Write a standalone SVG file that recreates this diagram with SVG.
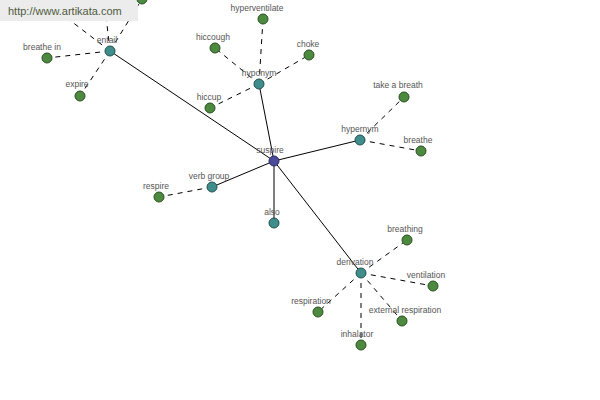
<svg xmlns="http://www.w3.org/2000/svg" width="600" height="400" viewBox="0 0 600 400">
<style>
.s{stroke:#000;stroke-width:1;fill:none}
.d{stroke:#000;stroke-width:1;fill:none;stroke-dasharray:5,5}
.c{fill:#4b4b9c;stroke:#2a2a5e;stroke-width:1}
.r{fill:#3f8e8c;stroke:#24504f;stroke-width:1}
.l{fill:#4d8a3f;stroke:#2a4f22;stroke-width:1}
text{font-family:"Liberation Sans",Arial,sans-serif;font-size:8.5px;fill:#555;text-anchor:middle}
</style>
<rect width="600" height="400" fill="#fff"/>
<g id="connectors">
<line class="s" x1="274" y1="161" x2="110" y2="51"/>
<line class="s" x1="274" y1="161" x2="259" y2="84"/>
<line class="s" x1="274" y1="161" x2="360" y2="140"/>
<line class="s" x1="274" y1="161" x2="212" y2="187"/>
<line class="s" x1="274" y1="161" x2="274" y2="223"/>
<line class="s" x1="274" y1="161" x2="361" y2="273"/>
<line class="d" x1="110" y1="51" x2="47" y2="58"/>
<line class="d" x1="110" y1="51" x2="80" y2="96"/>
<line class="d" x1="110" y1="51" x2="142" y2="-1"/>
<line class="d" x1="110" y1="51" x2="103" y2="-10"/>
<line class="d" x1="110" y1="51" x2="50" y2="5"/>
<line class="d" x1="259" y1="84" x2="263" y2="19"/>
<line class="d" x1="259" y1="84" x2="215" y2="48"/>
<line class="d" x1="259" y1="84" x2="309" y2="55"/>
<line class="d" x1="259" y1="84" x2="210" y2="108"/>
<line class="d" x1="360" y1="140" x2="404" y2="97"/>
<line class="d" x1="360" y1="140" x2="421" y2="151"/>
<line class="d" x1="212" y1="187" x2="159" y2="197"/>
<line class="d" x1="361" y1="273" x2="407" y2="240"/>
<line class="d" x1="361" y1="273" x2="433" y2="286"/>
<line class="d" x1="361" y1="273" x2="318" y2="312"/>
<line class="d" x1="361" y1="273" x2="402" y2="321"/>
<line class="d" x1="361" y1="273" x2="361" y2="345"/>
</g>
<g id="watermark">
<rect x="0" y="0" width="138" height="21" fill="#ececec"/>
<text x="8" y="15" style="text-anchor:start;font-size:11px;fill:#4f5a3f">http://www.artikata.com</text>
</g>
<g id="n-top"><circle class="l" cx="142" cy="-1" r="5"/></g>
<g id="n-suspire"><circle class="c" cx="274" cy="161" r="5"/><text x="270" y="153">suspire</text></g>
<g id="n-entail"><circle class="r" cx="110" cy="51" r="5"/><text x="107" y="43">entail</text></g>
<g id="n-hyponym"><circle class="r" cx="259" cy="84" r="5"/><text x="259" y="76">hyponym</text></g>
<g id="n-hypernym"><circle class="r" cx="360" cy="140" r="5"/><text x="360" y="132">hypernym</text></g>
<g id="n-verbgroup"><circle class="r" cx="212" cy="187" r="5"/><text x="209" y="179">verb group</text></g>
<g id="n-also"><circle class="r" cx="274" cy="223" r="5"/><text x="272" y="215">also</text></g>
<g id="n-derivation"><circle class="r" cx="361" cy="273" r="5"/><text x="355" y="265">derivation</text></g>
<g id="n-breathein"><circle class="l" cx="47" cy="58" r="5"/><text x="42" y="50">breathe in</text></g>
<g id="n-expire"><circle class="l" cx="80" cy="96" r="5"/><text x="77" y="87">expire</text></g>
<g id="n-hyperventilate"><circle class="l" cx="263" cy="19" r="5"/><text x="257" y="11">hyperventilate</text></g>
<g id="n-hiccough"><circle class="l" cx="215" cy="48" r="5"/><text x="213" y="40">hiccough</text></g>
<g id="n-choke"><circle class="l" cx="309" cy="55" r="5"/><text x="308" y="47">choke</text></g>
<g id="n-hiccup"><circle class="l" cx="210" cy="108" r="5"/><text x="209" y="100">hiccup</text></g>
<g id="n-takeabreath"><circle class="l" cx="404" cy="97" r="5"/><text x="398" y="88">take a breath</text></g>
<g id="n-breathe"><circle class="l" cx="421" cy="151" r="5"/><text x="418" y="143">breathe</text></g>
<g id="n-respire"><circle class="l" cx="159" cy="197" r="5"/><text x="156" y="189">respire</text></g>
<g id="n-breathing"><circle class="l" cx="407" cy="240" r="5"/><text x="405" y="232">breathing</text></g>
<g id="n-ventilation"><circle class="l" cx="433" cy="286" r="5"/><text x="426" y="278">ventilation</text></g>
<g id="n-respiration"><circle class="l" cx="318" cy="312" r="5"/><text x="311" y="304">respiration</text></g>
<g id="n-externalrespiration"><circle class="l" cx="402" cy="321" r="5"/><text x="405" y="313">external respiration</text></g>
<g id="n-inhalator"><circle class="l" cx="361" cy="345" r="5"/><text x="357" y="337">inhalator</text></g>
</svg>
